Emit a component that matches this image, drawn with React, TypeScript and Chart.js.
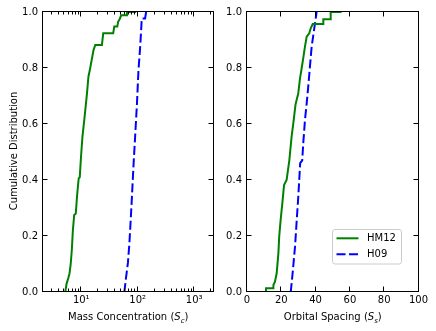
import React, { useEffect, useRef } from "react";
import { Chart, registerables } from "chart.js";

Chart.register(...registerables);

const FONT = "'DejaVu Sans', 'Liberation Sans', sans-serif";
const GREEN = "#008000";
const BLUE = "#0000ff";

// ---- data (traced vertices of each cumulative-distribution curve) ----
const seriesLabels = ["HM12", "H09"];

// Left panel: mass concentration (S_c)
const hm12MassX = [5.2, 5.5, 5.9, 6.2, 6.5, 6.8, 7.1, 7.5, 8.0, 8.4, 9.0, 9.4, 9.9, 10.5, 11.3, 12.3, 12.7, 13.4, 14.4, 15.5, 16.5, 17.7, 23.2, 24.5, 36.8, 38.4, 43.4, 45, 48, 51, 64.5, 64.5, 94];
const hm12MassY = [0, 0.03, 0.05, 0.067, 0.10, 0.15, 0.22, 0.275, 0.28, 0.34, 0.406, 0.41, 0.483, 0.555, 0.614, 0.686, 0.715, 0.769, 0.80, 0.835, 0.864, 0.882, 0.882, 0.924, 0.924, 0.948, 0.948, 0.965, 0.975, 0.988, 0.988, 1.0, 1.0];
const h09MassX = [58, 62, 67, 71, 74, 79, 84, 90, 97, 103, 110.6, 115, 118, 135, 141];
const h09MassY = [0, 0.05, 0.104, 0.17, 0.233, 0.34, 0.448, 0.555, 0.674, 0.79, 0.876, 0.936, 0.977, 0.977, 1.0];

// Right panel: orbital spacing (S_s)
const hm12SpacingX = [11.1, 11.1, 15.4, 15.4, 16.3, 17.3, 18.3, 18.8, 19.6, 20.8, 21.6, 23.1, 24.7, 26.0, 27.0, 28.3, 29.9, 30.9, 31.9, 32.8, 33.8, 34.8, 36.3, 37.1, 38.3, 44.5, 44.5, 48.8, 48.8, 55.2];
const hm12SpacingY = [0, 0.013, 0.013, 0.025, 0.037, 0.067, 0.138, 0.2, 0.257, 0.329, 0.382, 0.4, 0.471, 0.555, 0.602, 0.67, 0.71, 0.763, 0.8, 0.835, 0.876, 0.912, 0.924, 0.941, 0.957, 0.957, 0.974, 0.974, 1.0, 1.0];
const h09SpacingX = [25.5, 26.6, 28.0, 29.0, 29.9, 30.9, 31.0, 32.2, 32.8, 33.8, 34.8, 35.7, 36.7, 37.7, 39.1, 40.2, 40.6];
const h09SpacingY = [0, 0.067, 0.162, 0.257, 0.34, 0.448, 0.46, 0.47, 0.531, 0.614, 0.674, 0.733, 0.805, 0.876, 0.936, 0.983, 1.0];

// ---- ticks / labels ----
const yTicks = [0, 0.2, 0.4, 0.6, 0.8, 1.0];
const massMajorTicks = [10, 100, 1000];
const massTickLabels = ["10¹", "10²", "10³"];
const massMinorTicks = [3, 4, 5, 6, 7, 8, 9, 20, 30, 40, 50, 60, 70, 80, 90, 200, 300, 400, 500, 600, 700, 800, 900, 2000];
const spacingMajorTicks = [0, 20, 40, 60, 80, 100];
const yTitle = "Cumulative Distribution";
const massTitle = [
  { text: "Mass Concentration (" },
  { text: "S", italic: true },
  { text: "c", italic: true, sub: true },
  { text: ")" },
];
const spacingTitle = [
  { text: "Orbital Spacing (" },
  { text: "S", italic: true },
  { text: "s", italic: true, sub: true },
  { text: ")" },
];

type Part = { text: string; italic?: boolean; sub?: boolean };

const toPoints = (xs: number[], ys: number[]) => xs.map((x, i) => ({ x, y: ys[i] }));

const snap = (v: number) => Math.round(v) - 0.5;

function makeFramePlugin(cfg: {
  xMajor: number[];
  xMinor: number[];
  xTitle: Part[];
  yTitle?: string;
  legend?: boolean;
}) {
  return {
    id: "frame",
    afterDraw(chart: any) {
      const ctx: CanvasRenderingContext2D = chart.ctx;
      const ca = chart.chartArea;
      const xs = chart.scales.x;
      const ys = chart.scales.y;
      const L = snap(ca.left), R = snap(ca.right), T = snap(ca.top), B = snap(ca.bottom);
      ctx.save();
      ctx.strokeStyle = "#000";
      ctx.lineWidth = 1;
      ctx.setLineDash([]);
      ctx.strokeRect(L, T, R - L, B - T);
      ctx.beginPath();
      const xTick = (v: number, len: number) => {
        const px = snap(xs.getPixelForValue(v));
        if (px < L - 0.1 || px > R + 0.1) return;
        ctx.moveTo(px, B); ctx.lineTo(px, B - len);
        ctx.moveTo(px, T); ctx.lineTo(px, T + len);
      };
      cfg.xMajor.forEach((v) => xTick(v, 5));
      cfg.xMinor.forEach((v) => xTick(v, 3));
      yTicks.forEach((v) => {
        const py = snap(ys.getPixelForValue(v));
        ctx.moveTo(L, py); ctx.lineTo(L + 5, py);
        ctx.moveTo(R, py); ctx.lineTo(R - 5, py);
      });
      ctx.stroke();

      // x title with italic S and subscript
      ctx.fillStyle = "#000";
      ctx.textBaseline = "alphabetic";
      ctx.textAlign = "left";
      const fontFor = (p: Part) => `${p.italic ? "italic " : ""}${p.sub ? 7 : 10}px ${FONT}`;
      let total = 0;
      const widths = cfg.xTitle.map((p) => {
        ctx.font = fontFor(p);
        const w = ctx.measureText(p.text).width;
        total += w;
        return w;
      });
      let x = (ca.left + ca.right) / 2 - total / 2;
      cfg.xTitle.forEach((p, i) => {
        ctx.font = fontFor(p);
        ctx.fillText(p.text, x, 320 + (p.sub ? 2.5 : 0));
        x += widths[i];
      });

      if (cfg.yTitle) {
        ctx.save();
        ctx.translate(16.5, (ca.top + ca.bottom) / 2 - 1);
        ctx.rotate(-Math.PI / 2);
        ctx.font = `10px ${FONT}`;
        ctx.textAlign = "center";
        ctx.textBaseline = "alphabetic";
        ctx.fillText(cfg.yTitle, 0, 0);
        ctx.restore();
      }

      if (cfg.legend) {
        const bw = 69, bh = 34.5;
        const bx = ca.right - 17 - bw;
        const by = ca.bottom - 28 - bh;
        ctx.beginPath();
        (ctx as any).roundRect(snap(bx), snap(by), bw, bh, 2.5);
        ctx.fillStyle = "rgba(255,255,255,0.9)";
        ctx.fill();
        ctx.strokeStyle = "#cccccc";
        ctx.lineWidth = 1;
        ctx.stroke();
        chart.data.datasets.forEach((ds: any, i: number) => {
          const ry = by + 8.8 + i * 16;
          ctx.beginPath();
          ctx.strokeStyle = ds.borderColor;
          ctx.lineWidth = ds.borderWidth;
          ctx.setLineDash(ds.borderDash || []);
          ctx.moveTo(bx + 4, ry);
          ctx.lineTo(bx + 26, ry);
          ctx.stroke();
          ctx.setLineDash([]);
          ctx.fillStyle = "#000";
          ctx.font = `10px ${FONT}`;
          ctx.textBaseline = "middle";
          ctx.textAlign = "left";
          ctx.fillText(ds.label, bx + 34.5, ry + 0.5);
        });
      }
      ctx.restore();
    },
  };
}

function makeDatasets(gx: number[], gy: number[], bx: number[], by: number[]) {
  return [
    {
      label: seriesLabels[0],
      data: toPoints(gx, gy),
      borderColor: GREEN,
      backgroundColor: GREEN,
      borderWidth: 2,
      borderJoinStyle: "miter",
      pointRadius: 0,
      fill: false,
      tension: 0,
    },
    {
      label: seriesLabels[1],
      data: toPoints(bx, by),
      borderColor: BLUE,
      backgroundColor: BLUE,
      borderWidth: 2,
      borderDash: [9, 3.5],
      borderCapStyle: "butt",
      pointRadius: 0,
      fill: false,
      tension: 0,
    },
  ];
}

function yScale(width: number) {
  return {
    type: "linear",
    min: 0,
    max: 1,
    grid: { display: false, drawTicks: false },
    border: { display: false },
    afterBuildTicks: (s: any) => {
      s.ticks = yTicks.map((v) => ({ value: v }));
    },
    afterFit: (s: any) => {
      s.width = width;
    },
    ticks: {
      padding: 5,
      color: "#000",
      font: { family: FONT, size: 10 },
      callback: (v: any) => Number(v).toFixed(1),
    },
  };
}

export default function App() {
  const leftRef = useRef<HTMLCanvasElement>(null);
  const rightRef = useRef<HTMLCanvasElement>(null);

  useEffect(() => {
    Chart.defaults.font.family = FONT;
    Chart.defaults.font.size = 10;
    Chart.defaults.color = "#000";

    const left = new Chart(leftRef.current as HTMLCanvasElement, {
      type: "line",
      data: { datasets: makeDatasets(hm12MassX, hm12MassY, h09MassX, h09MassY) as any },
      options: {
        responsive: false,
        animation: false,
        layout: { padding: { left: 0, right: 4.5, top: 12, bottom: 0 } },
        plugins: { legend: { display: false }, tooltip: { enabled: false } },
        scales: {
          x: {
            type: "logarithmic",
            min: 2.1,
            max: 2200,
            grid: { display: false, drawTicks: false },
            border: { display: false },
            afterBuildTicks: (s: any) => {
              s.ticks = massMajorTicks.map((v) => ({ value: v }));
            },
            afterFit: (s: any) => {
              s.height = 39;
            },
            ticks: {
              autoSkip: false,
              maxRotation: 0,
              padding: 2,
              color: "#000",
              font: { family: FONT, size: 10 },
              callback: (v: any) => {
                const i = massMajorTicks.indexOf(Number(v));
                return i >= 0 ? massTickLabels[i] : "";
              },
            },
          } as any,
          y: yScale(43) as any,
        },
      },
      plugins: [
        makeFramePlugin({ xMajor: massMajorTicks, xMinor: massMinorTicks, xTitle: massTitle, yTitle }),
      ],
    });

    const right = new Chart(rightRef.current as HTMLCanvasElement, {
      type: "line",
      data: { datasets: makeDatasets(hm12SpacingX, hm12SpacingY, h09SpacingX, h09SpacingY) as any },
      options: {
        responsive: false,
        animation: false,
        layout: { padding: { left: 0, right: 17.5, top: 12, bottom: 0 } },
        plugins: { legend: { display: false }, tooltip: { enabled: false } },
        scales: {
          x: {
            type: "linear",
            min: 0,
            max: 100,
            grid: { display: false, drawTicks: false },
            border: { display: false },
            afterBuildTicks: (s: any) => {
              s.ticks = spacingMajorTicks.map((v) => ({ value: v }));
            },
            afterFit: (s: any) => {
              s.height = 39;
            },
            ticks: {
              autoSkip: false,
              maxRotation: 0,
              padding: 2,
              color: "#000",
              font: { family: FONT, size: 10 },
              callback: (v: any) => String(v),
            },
          } as any,
          y: yScale(29) as any,
        },
      },
      plugins: [
        makeFramePlugin({ xMajor: spacingMajorTicks, xMinor: [], xTitle: spacingTitle, legend: true }),
      ],
    });

    return () => {
      left.destroy();
      right.destroy();
    };
  }, []);

  return (
    <div style={{ position: "fixed", left: 0, top: 0, width: 436, height: 331, background: "#fff" }}>
      <canvas ref={leftRef} width={218} height={331} style={{ position: "absolute", left: 0, top: 0, width: 218, height: 331 }} />
      <canvas ref={rightRef} width={218} height={331} style={{ position: "absolute", left: 218, top: 0, width: 218, height: 331 }} />
    </div>
  );
}
